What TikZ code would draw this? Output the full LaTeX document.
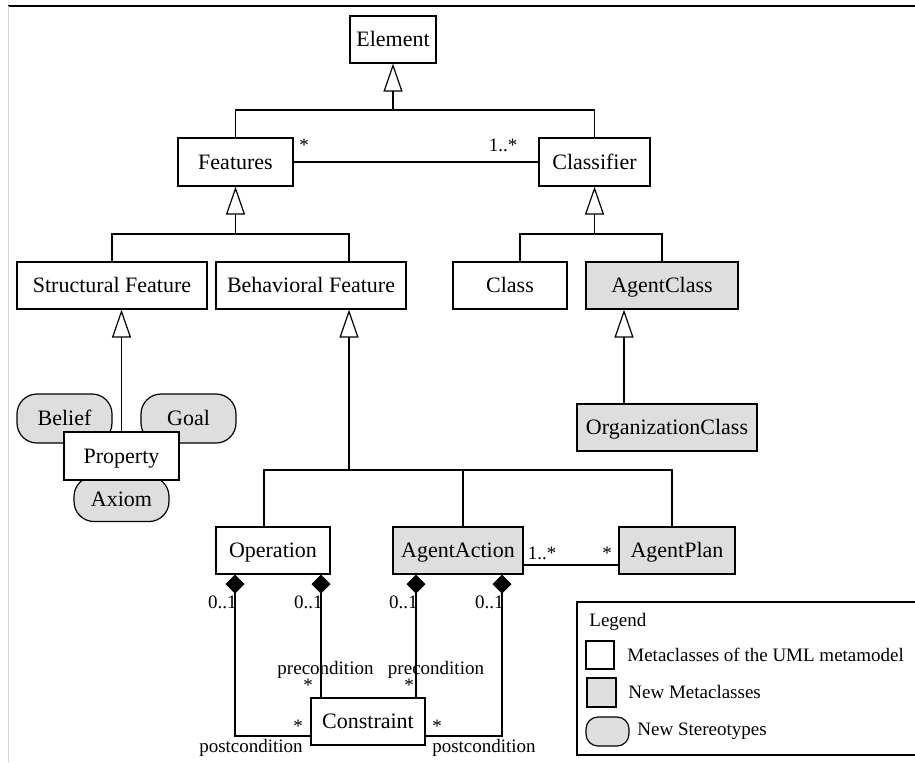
\documentclass[tikz,border=0pt]{standalone}
\usepackage{fontspec}
\setmainfont{Liberation Serif}
\usetikzlibrary{arrows.meta}

\definecolor{agentgrey}{HTML}{DEDEDE}
\definecolor{framegrey}{HTML}{D6D6D6}

\tikzset{
  cls/.style={draw, fill=white, inner sep=0pt, minimum height=23.5pt, line width=0.6pt, text height=7.5pt, text depth=0.5pt, font=\fontsize{11}{13}\selectfont},
  newcls/.style={cls, fill=agentgrey},
  stereo/.style={cls, fill=agentgrey, rounded corners=10pt, minimum width=47.5pt, minimum height=24.5pt},
  mult/.style={inner sep=0pt, font=\fontsize{9.5}{11}\selectfont},
  gen/.style={line width=0.6pt, -{Triangle[open, length=14pt, width=9.5pt]}},
  comp/.style={line width=0.6pt, -{Diamond[length=9.5pt, width=9.5pt]}},
  link/.style={line width=0.6pt},
}

\begin{document}
\begin{tikzpicture}[x=0.5pt, y=-0.5pt]
		\useasboundingbox (0,0) rectangle (915,762);
		% frame
		\draw [line width=1pt](8,6)--(915,6);
		\draw [framegrey, line width=0.5pt](8,6)--(8,762);
		
		% classes
		\node[cls, minimum width=43pt] (elem) at (393,39.5) {Element};
		\node[cls, minimum width=57.5pt, minimum height=24pt] (feat) at (235.5,162) {Features};
		\node[cls, minimum width=55.5pt, minimum height=24pt] (clsf) at (594.5,162) {Classifier};
		\node[cls, minimum width=95pt] (sf) at (112,285.5) {Structural Feature};
		\node[cls, minimum width=95pt] (bf) at (311,285.5) {Behavioral Feature};
		\node[cls, minimum width=57pt] (cls) at (510,285.5) {Class};
		\node[newcls, minimum width=76pt] (ac) at (662,285.5) {AgentClass};
		\node[newcls, minimum width=90pt] (oc) at (667,427.5) {OrganizationClass};
		
		% stereotypes behind Property
		\node[stereo] (belief) at (64.5,418.5) {Belief};
		\node[stereo] (goal) at (188.5,418.5) {Goal};
		\node[stereo, minimum height=22.5pt] (axiom) at (121.5,499) {Axiom};
		\node[cls, minimum width=57.5pt, minimum height=24pt] (prop) at (121.5,456) {Property};
		
		\node[cls, minimum width=57pt] (op) at (273,550.5) {Operation};
		\node[newcls, minimum width=65pt] (aa) at (458,550.5) {AgentAction};
		\node[newcls, minimum width=58pt] (ap) at (677,550.5) {AgentPlan};
		\node[cls, minimum width=57pt] (cons) at (368,721.5) {Constraint};
		
		% generalizations
		\coordinate (barTop) at (0,110);
		\coordinate (barMid) at (0,234);
		\coordinate (barBeh) at (0,470);
		\draw[gen] (elem.south |- barTop) -- (elem.south);
		\draw[link] (feat.north) |- (elem.south |- barTop) -| (clsf.north);
		
		\coordinate (bfTop) at ([xshift=19pt]bf.north);
		\draw[gen] (feat.south |- barMid) -- (feat.south);
		\draw[link] (sf.north) |- (feat.south |- barMid) -| (bfTop);
		
		\coordinate (clsTop) at ([xshift=5pt]cls.north);
		\draw[gen] (clsf.south |- barMid) -- (clsf.south);
		\draw[link] (clsTop) |- (clsf.south |- barMid) -| (ac.north);
		
		\draw[gen] ([xshift=-21.5pt]oc.north) -- ([xshift=-19pt]ac.south);
		\draw[gen] (prop.north) -- (prop.north |- sf.south);
		
		\coordinate (bfBot) at ([xshift=19pt]bf.south);
		\coordinate (aaTop) at ([xshift=2.5pt]aa.north);
		\draw[gen] (bfBot |- barBeh) -- (bfBot);
		\draw[link] ([xshift=-4.5pt]op.north) |- (bfBot |- barBeh) -| ([xshift=-2.5pt]ap.north);
		\draw[link] (aaTop) -- (aaTop |- barBeh);
		
		% associations
		\draw[link] (feat.east) -- (clsf.west);
		\node[mult] (featm) at (304,145) {*};
		\node[mult] (clsfm) at (503,145) {1..*};
		
		\draw[link] ([yshift=-7.25pt]aa.east) -- ([yshift=-7.25pt]ap.west);
		\node[mult] (aam) at (542,553) {1..*};
		\node[mult] (apm) at (607,553) {*};
		
		% compositions
		\coordinate (op1) at ([xshift=-19pt]op.south);
		\coordinate (op2) at ([xshift=24pt]op.south);
		\coordinate (aa1) at ([xshift=-21pt]aa.south);
		\coordinate (aa2) at ([xshift=22pt]aa.south);
		\draw[comp] ([yshift=-7.25pt]cons.west) -| (op1);
		\draw[comp] (op2 |- cons.north) -- (op2);
		\draw[comp] (aa1 |- cons.north) -- (aa1);
		\draw[comp] ([yshift=-7.25pt]cons.east) -| (aa2);
		
		\foreach \p in {op1,op2,aa1,aa2}
			\node[mult, anchor=east] at ([xshift=1pt,yshift=-14pt]\p) {0..1};
		
		\node[mult] (pre1) at (325.5,670) {precondition};
		\node[mult] (pre1m) at (308,685) {*};
		\node[mult] (pre2) at (436,670) {precondition};
		\node[mult] (pre2m) at (409,685) {*};
		\node[mult] (post1m) at (298,726) {*};
		\node[mult] (post1) at (251,748) {postcondition};
		\node[mult] (post2m) at (437,726) {*};
		\node[mult] (post2) at (484,748) {postcondition};
		
		% legend
		\draw[link] (915,602) -| (577,755) -- (915,755);
		\node[mult, anchor=west] (legtitle) at (589,622) {Legend};
		\node[draw, line width=0.6pt, fill=white, minimum width=14pt, minimum height=14pt, inner sep=0pt] (keyold) at (600,655) {};
		\node[draw, line width=0.6pt, fill=agentgrey, minimum width=14.5pt, minimum height=14.5pt, inner sep=0pt] (keynew) at (601.5,692.5) {};
		\node[draw, line width=0.6pt, fill=agentgrey, rounded corners=6pt, minimum width=21.5pt, minimum height=14.5pt, inner sep=0pt] (keyster) at (607.5,731.5) {};
		\node[mult, anchor=west] (keyoldt) at (627,655) {Metaclasses of the UML metamodel};
		\node[mult, anchor=west] (keynewt) at (628,692) {New Metaclasses};
		\node[mult, anchor=west] (keystert) at (637,731) {New Stereotypes};
	
	\end{tikzpicture}
\end{document}
